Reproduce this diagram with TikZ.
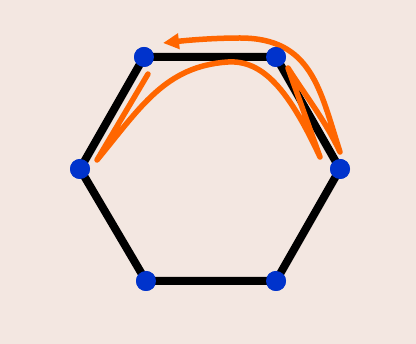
\documentclass[tikz,border=0pt]{standalone}
\usepackage{tikz}
\usepackage{xcolor}
\usetikzlibrary{arrows.meta}
\definecolor{hxback}{RGB}{243,231,225}
\definecolor{hxblue}{RGB}{0,51,204}
\definecolor{hxorange}{RGB}{255,102,0}
\tikzset{
  hxvert/.style={circle, fill=hxblue, draw=none, minimum size=20pt, inner sep=0pt},
  hxedge/.style={line width=8pt, draw=black},
  hxwalk/.style={line width=5.5pt, draw=hxorange, line cap=round, line join=round, -{Triangle[length=16pt,width=15pt]}}
}

\begin{document}
\begin{tikzpicture}[x=1pt, y=-1pt]
  \fill[hxback] (0,0) rectangle (416,344);
  \useasboundingbox (0,0) rectangle (416,344);
  % vertices
  \node[hxvert] (v1) at (144,57) {};
  \node[hxvert] (v2) at (276,57) {};
  \node[hxvert] (v3) at (340,169) {};
  \node[hxvert] (v4) at (276,281) {};
  \node[hxvert] (v5) at (146,281) {};
  \node[hxvert] (v6) at (80,169) {};
  % edges
  \draw[hxedge] (v1.center) -- (v2.center) -- (v3.center) -- (v4.center) -- (v5.center) -- (v6.center) -- cycle;
  % walk
  \coordinate (w0) at (148,74);
  \coordinate (w1) at (97,160);
  \coordinate (w2) at (228,62);
  \coordinate (w3) at (320,157);
  \coordinate (w4) at (288,68);
  \coordinate (w5) at (340,152);
  \coordinate (w6) at (240,38);
  \coordinate (w7) at (163,43);
  \draw[hxwalk] (w0) -- (w1)
    .. controls (140,108) and (165,66) .. (w2)
    .. controls (262,60) and (288,88) .. (w3)
    -- (w4)
    .. controls (305,95) and (325,120) .. (w5)
    .. controls (320,90) and (312,38) .. (w6)
    .. controls (215,38) and (190,40) .. (w7);
  % dots on top
  \foreach \v in {v1,v2,v3,v4,v5,v6}
    \node[hxvert] at (\v) {};
\end{tikzpicture}
\end{document}
